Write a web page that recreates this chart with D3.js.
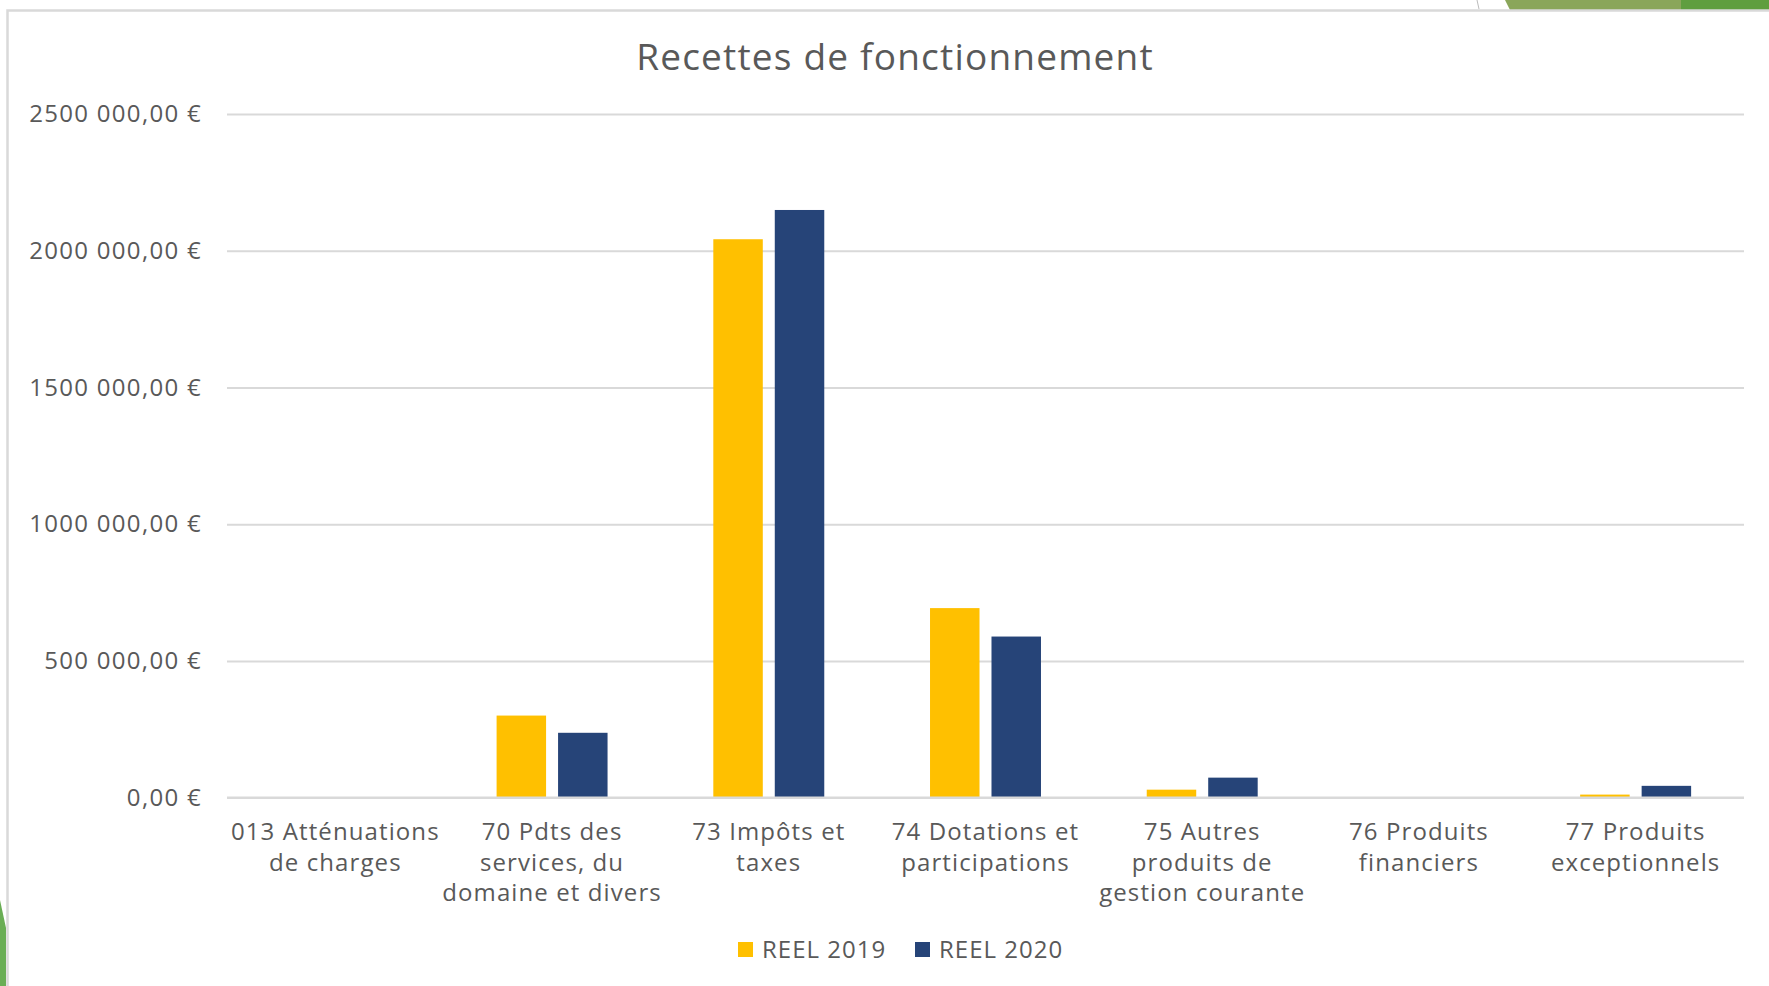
<!DOCTYPE html>
<html>
<head>
<meta charset="UTF-8">
<title>Recettes de fonctionnement</title>
<script src="https://cdn.jsdelivr.net/npm/d3@7/dist/d3.min.js"></script>
<style>
    body { margin: 0; background: #fff; }
    svg { display: block; }
    text { font-family: "Open Sans", "Noto Sans", sans-serif; fill: #595959; }
</style>
</head>
<body>
<svg id="chart" width="1769" height="986"></svg>

<script>
// chart data
var categories = [
    "013 Atténuations|de charges",
    "70 Pdts des|services, du|domaine et divers",
    "73 Impôts et|taxes",
    "74 Dotations et|participations",
    "75 Autres|produits de|gestion courante",
    "76 Produits|financiers",
    "77 Produits|exceptionnels"
];
var seriesNames = ["REEL 2019", "REEL 2020"];
var reel2019 = [0, 300000, 2042000, 693000, 29000, 0, 11000];
var reel2020 = [0, 237000, 2149000, 589000, 73000, 0, 43000];
var tickValues = [0, 500000, 1000000, 1500000, 2000000, 2500000];
var tickLabels = ["0,00 €", "500 000,00 €", "1000 000,00 €", "1500 000,00 €", "2000 000,00 €", "2500 000,00 €"];

var colors = ["#FFC000", "#264478"];

var svg = d3.select("#chart");

// plot area
var plot = { left: 227, right: 1744, top: 114, bottom: 797.6 };

// frame decorations (slide background)
svg.append("polygon")
    .attr("points", "1505,0 1681,0 1681,10 1510,10")
    .attr("fill", "#8AA65A");
svg.append("polygon")
    .attr("points", "1681,0 1769,0 1769,10 1681,10")
    .attr("fill", "#5F9E3F");
svg.append("line")
    .attr("x1", 1477).attr("y1", 0).attr("x2", 1479).attr("y2", 9)
    .attr("stroke", "#bbb").attr("stroke-width", 1);
svg.append("polygon")
    .attr("points", "0,900 6,928 6,986 0,986")
    .attr("fill", "#6AAE55");

// chart border
svg.append("rect")
    .attr("x", 7.5).attr("y", 10.5)
    .attr("width", 1850).attr("height", 1050)
    .attr("fill", "#fff")
    .attr("stroke", "#D9D9D9")
    .attr("stroke-width", 2.5);

var x0 = d3.scaleBand()
    .domain(d3.range(categories.length))
    .range([plot.left, plot.right]);

var bw = x0.bandwidth();
var x1 = d3.scaleBand()
    .domain(d3.range(seriesNames.length))
    .range([bw * 0.244, bw * 0.756])
    .paddingInner(0.195);

var y = d3.scaleLinear()
    .domain([0, 2500000])
    .range([plot.bottom, plot.top]);

// gridlines
var grid = svg.append("g")
    .attr("transform", "translate(" + plot.left + ",0)")
    .call(d3.axisLeft(y).tickValues(tickValues).tickSize(-(plot.right - plot.left)).tickFormat(""));
grid.select(".domain").remove();
grid.selectAll(".tick line").attr("stroke", "#D9D9D9").attr("stroke-width", 2);

// y labels
var yAxis = svg.append("g")
    .attr("transform", "translate(202,0)")
    .call(d3.axisLeft(y).tickValues(tickValues).tickSize(0).tickPadding(0)
        .tickFormat(function(d, i) { return tickLabels[i]; }));
yAxis.select(".domain").remove();
yAxis.attr("font-family", null).attr("font-size", null);
yAxis.selectAll("text")
    .attr("font-size", 24)
    .attr("letter-spacing", 1.3)
    .attr("fill", "#595959");

// bars
var allSeries = [reel2019, reel2020];
var groups = svg.append("g").selectAll("g")
    .data(categories)
    .join("g")
    .attr("transform", function(d, i) { return "translate(" + x0(i) + ",0)"; });

groups.selectAll("rect")
    .data(function(d, i) { return allSeries.map(function(s, k) { return { k: k, v: s[i] }; }); })
    .join("rect")
    .attr("x", function(d) { return x1(d.k); })
    .attr("width", x1.bandwidth())
    .attr("y", function(d) { return y(d.v); })
    .attr("height", function(d) { return plot.bottom - y(d.v); })
    .attr("fill", function(d) { return colors[d.k]; });

// baseline over bars
svg.append("line")
    .attr("x1", plot.left).attr("x2", plot.right)
    .attr("y1", plot.bottom).attr("y2", plot.bottom)
    .attr("stroke", "#D9D9D9").attr("stroke-width", 2);

// category labels
var xAxis = svg.append("g");
categories.forEach(function(c, i) {
    var t = xAxis.append("text")
        .attr("text-anchor", "middle")
        .attr("font-size", 24)
        .attr("letter-spacing", 1.1)
        .attr("x", x0(i) + bw / 2)
        .attr("y", 840);
    c.split("|").forEach(function(line, j) {
        t.append("tspan")
            .attr("x", x0(i) + bw / 2)
            .attr("dy", j === 0 ? 0 : 30.5)
            .text(line);
    });
});

// title
svg.append("text")
    .attr("x", 895).attr("y", 70)
    .attr("text-anchor", "middle")
    .attr("font-size", 37)
    .attr("letter-spacing", 1.2)
    .text("Recettes de fonctionnement");

// legend
var legend = svg.append("g");
var legendX = [738, 915];
seriesNames.forEach(function(name, k) {
    legend.append("rect")
        .attr("x", legendX[k]).attr("y", 942)
        .attr("width", 15).attr("height", 15)
        .attr("fill", colors[k]);
    legend.append("text")
        .attr("x", legendX[k] + 24).attr("y", 958)
        .attr("font-size", 24)
        .attr("letter-spacing", 1.0)
        .text(name);
});
</script>
</body>
</html>
